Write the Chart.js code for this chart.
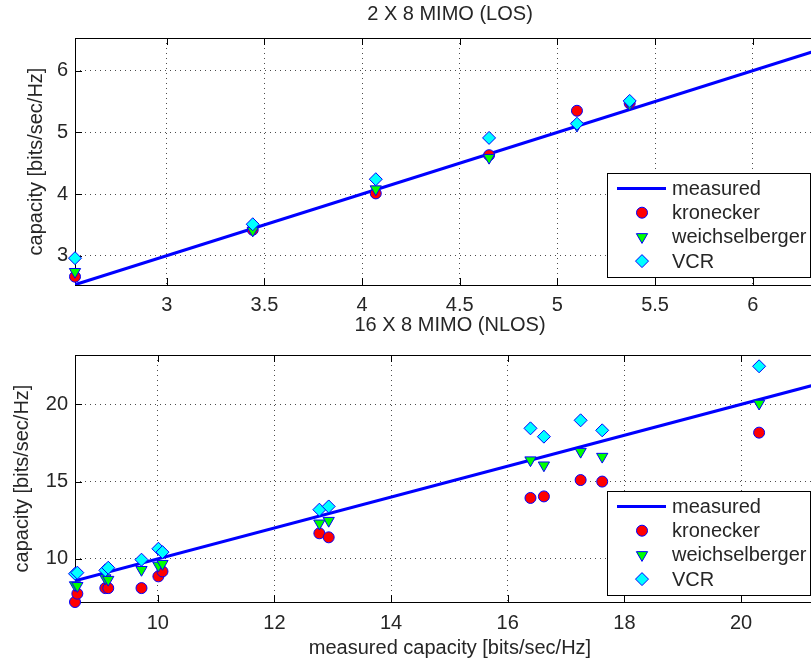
<!DOCTYPE html>
<html>
<head>
<meta charset="utf-8">
<script src="https://cdn.jsdelivr.net/npm/chart.js@4.4.1/dist/chart.umd.min.js"></script>
<style>
  html, body { margin: 0; padding: 0; background: #fff; overflow: hidden; }
  #wrap { position: relative; width: 811px; height: 664px; overflow: hidden; }
  canvas { position: absolute; left: 0; }
  #losChart { top: 0; }
  #nlosChart { top: 312px; }
</style>
</head>
<body>
<div id="wrap">
  <canvas id="losChart" width="840" height="320"></canvas>
  <canvas id="nlosChart" width="840" height="352"></canvas>
</div>
<script>
// 2 X 8 MIMO (LOS) - capacity values
const losMeasured = [2.53, 3.44, 4.07, 4.65, 5.10, 5.37];
const losKronecker = [2.66, 3.42, 4.01, 4.63, 5.35, 5.47];
const losWeichsel = [2.74, 3.41, 4.08, 4.59, 5.11, 5.46];
const losVcr = [2.96, 3.51, 4.24, 4.91, 5.14, 5.51];
const losLine = [2.53, 6.5];
const losXTicks = [3, 3.5, 4, 4.5, 5, 5.5, 6];
const losYTicks = [3, 4, 5, 6];

// 16 X 8 MIMO (NLOS)
const nlosMeasured = [8.58, 8.62, 9.10, 9.15, 9.72, 10.01, 10.08, 12.77, 12.93, 16.39, 16.62, 17.25, 17.62, 20.31];
const nlosKronecker = [7.20, 7.74, 8.10, 8.10, 8.10, 8.86, 9.18, 11.65, 11.39, 13.94, 14.04, 15.10, 15.00, 18.17];
const nlosWeichsel = [8.30, 8.25, 8.75, 8.65, 9.29, 9.57, 9.68, 12.30, 12.47, 16.39, 16.06, 16.94, 16.62, 20.06];
const nlosVcr = [9.03, 9.10, 9.25, 9.42, 9.94, 10.65, 10.43, 13.18, 13.39, 18.45, 17.91, 18.97, 18.32, 22.47];
const nlosLine = [8.58, 21.6];
const nlosXTicks = [10, 12, 14, 16, 18, 20];
const nlosYTicks = [10, 15, 20];

const FONT = '"Liberation Sans", Arial, Helvetica, sans-serif';
const TEXT = '#262626';

function pts(xs, ys) {
    return xs.map((x, i) => ({ x: x, y: ys[i] }));
}

// matlab style tick text: 3, 3.5, 4 ...
function tickText(v) {
    return String(Math.round(v * 100) / 100);
}

// draws a single marker (legend)
function drawMarker(ctx, ds, x, y) {
    ctx.fillStyle = ds.backgroundColor;
    ctx.strokeStyle = ds.borderColor;
    ctx.lineWidth = ds.borderWidth;
    if (Chart.helpers && Chart.helpers.drawPoint) {
        Chart.helpers.drawPoint(ctx, {
            pointStyle: ds.pointStyle,
            rotation: ds.rotation || 0,
            radius: ds.pointRadius,
            borderWidth: ds.borderWidth
        }, x, y);
        return;
    }
    ctx.beginPath();
    ctx.arc(x, y, ds.pointRadius, 0, Math.PI * 2);
    ctx.fill();
    ctx.stroke();
}

// frame and inward tick marks like matlab axes
const axesFrame = {
    id: 'axesFrame',
    beforeDatasetsDraw(chart) {
        const { ctx, chartArea, scales } = chart;
        ctx.save();
        ctx.strokeStyle = '#000';
        ctx.lineWidth = 1;
        ctx.beginPath();
        scales.x.ticks.forEach(t => {
            const px = Math.round(scales.x.getPixelForValue(t.value)) + 0.5;
            ctx.moveTo(px, chartArea.bottom);
            ctx.lineTo(px, chartArea.bottom - 7);
            ctx.moveTo(px, chartArea.top);
            ctx.lineTo(px, chartArea.top + 7);
        });
        scales.y.ticks.forEach(t => {
            const py = Math.round(scales.y.getPixelForValue(t.value)) + 0.5;
            ctx.moveTo(chartArea.left, py);
            ctx.lineTo(chartArea.left + 7, py);
        });
        ctx.stroke();
        ctx.strokeRect(Math.round(chartArea.left) + 0.5, Math.round(chartArea.top) + 0.5,
            Math.round(chartArea.width), Math.round(chartArea.height));
        ctx.restore();
    }
};

// boxed legend inside the lower right corner
const boxLegend = {
    id: 'boxLegend',
    afterDatasetsDraw(chart, args, opts) {
        const { ctx, chartArea } = chart;
        const w = 203, h = 104;
        const x0 = Math.round(chartArea.right - opts.right - w);
        const y0 = Math.round(chartArea.bottom - opts.bottom - h);
        ctx.save();
        ctx.fillStyle = '#fff';
        ctx.fillRect(x0, y0, w, h);
        ctx.strokeStyle = '#000';
        ctx.lineWidth = 1;
        ctx.strokeRect(x0 + 0.5, y0 + 0.5, w, h);
        chart.data.datasets.forEach((ds, i) => {
            const y = y0 + 15.5 + i * 24.2;
            if (ds.showLine) {
                ctx.strokeStyle = ds.borderColor;
                ctx.lineWidth = ds.borderWidth;
                ctx.beginPath();
                ctx.moveTo(x0 + 10, y);
                ctx.lineTo(x0 + 59, y);
                ctx.stroke();
            } else {
                drawMarker(ctx, ds, x0 + 35, y);
            }
            ctx.font = '20px ' + FONT;
            ctx.fillStyle = TEXT;
            ctx.textBaseline = 'middle';
            ctx.fillText(ds.label, x0 + 65, y + 1);
        });
        ctx.restore();
    }
};

function makeDatasets(measured, kron, weich, vcr, line) {
    return [
        {
            label: 'measured', data: pts(line, line), showLine: true,
            borderColor: '#0000ff', backgroundColor: '#0000ff', borderWidth: 3,
            pointRadius: 0, order: 4
        },
        {
            label: 'kronecker', data: pts(measured, kron), pointStyle: 'circle',
            pointRadius: 5.5, backgroundColor: '#ff0000', borderColor: '#0000ff',
            borderWidth: 1, clip: false, order: 3
        },
        {
            label: 'weichselberger', data: pts(measured, weich), pointStyle: 'triangle',
            rotation: 180, pointRadius: 6.5, backgroundColor: '#00ff00', borderColor: '#0000ff',
            borderWidth: 1, clip: false, order: 2
        },
        {
            label: 'VCR', data: pts(measured, vcr), pointStyle: 'rectRot',
            pointRadius: 6.5, backgroundColor: '#00ffff', borderColor: '#0000ff',
            borderWidth: 1, clip: false, order: 1
        }
    ];
}

function makeOptions(c) {
    return {
        responsive: false,
        animation: false,
        layout: { padding: { left: c.padLeft, right: 15, top: 0, bottom: 0 } },
        plugins: {
            legend: { display: false },
            tooltip: { enabled: false },
            title: {
                display: true, text: c.title, color: TEXT, fullSize: false,
                font: { family: FONT, size: 20, weight: 'normal', lineHeight: 1.2 },
                padding: { top: c.titleTop, bottom: c.titleBottom }
            },
            boxLegend: { right: 15, bottom: c.legendBottom }
        },
        scales: {
            x: {
                type: 'linear', min: c.xMin, max: c.xMax,
                afterBuildTicks: s => { s.ticks = c.xTicks.map(v => ({ value: v })); },
                afterFit: s => { s.height = c.xHeight; },
                grid: { color: 'rgba(0,0,0,0.7)', lineWidth: 1, drawTicks: false },
                border: { display: false, dash: [1, 4] },
                ticks: {
                    padding: c.xTickPad, color: TEXT, maxRotation: 0, autoSkip: false,
                    font: { family: FONT, size: 20 }, callback: tickText
                },
                title: {
                    display: !!c.xTitle, text: c.xTitle || '', color: TEXT,
                    font: { family: FONT, size: 20, lineHeight: 1.2 },
                    padding: { top: 0, bottom: 4 }
                }
            },
            y: {
                type: 'linear', min: c.yMin, max: c.yMax,
                afterBuildTicks: s => { s.ticks = c.yTicks.map(v => ({ value: v })); },
                afterFit: s => { s.width = 75 - c.padLeft; },
                grid: { color: 'rgba(0,0,0,0.7)', lineWidth: 1, drawTicks: false },
                border: { display: false, dash: [1, 4] },
                ticks: {
                    padding: 7, color: TEXT, autoSkip: false,
                    font: { family: FONT, size: 20 }, callback: tickText
                },
                title: {
                    display: true, text: 'capacity [bits/sec/Hz]', color: TEXT,
                    font: { family: FONT, size: 20, lineHeight: 1.2 },
                    padding: { top: 2, bottom: 0 }
                }
            }
        }
    };
}

new Chart(document.getElementById('losChart'), {
    type: 'scatter',
    data: { datasets: makeDatasets(losMeasured, losKronecker, losWeichsel, losVcr, losLine) },
    options: makeOptions({
        title: '2 X 8 MIMO (LOS)', titleTop: 2, titleBottom: 12,
        xMin: 2.53, xMax: 6.37, yMin: 2.525, yMax: 6.53,
        xTicks: losXTicks, yTicks: losYTicks,
        padLeft: 22, xHeight: 35, xTickPad: 8, legendBottom: 8
    }),
    plugins: [axesFrame, boxLegend]
});

new Chart(document.getElementById('nlosChart'), {
    type: 'scatter',
    data: { datasets: makeDatasets(nlosMeasured, nlosKronecker, nlosWeichsel, nlosVcr, nlosLine) },
    options: makeOptions({
        title: '16 X 8 MIMO (NLOS)', titleTop: 1, titleBottom: 18,
        xMin: 8.58, xMax: 21.44, yMin: 7.2, yMax: 23.2,
        xTicks: nlosXTicks, yTicks: nlosYTicks,
        padLeft: 8, xHeight: 62, xTickPad: 9, legendBottom: 7,
        xTitle: 'measured capacity [bits/sec/Hz]'
    }),
    plugins: [axesFrame, boxLegend]
});
</script>
</body>
</html>
